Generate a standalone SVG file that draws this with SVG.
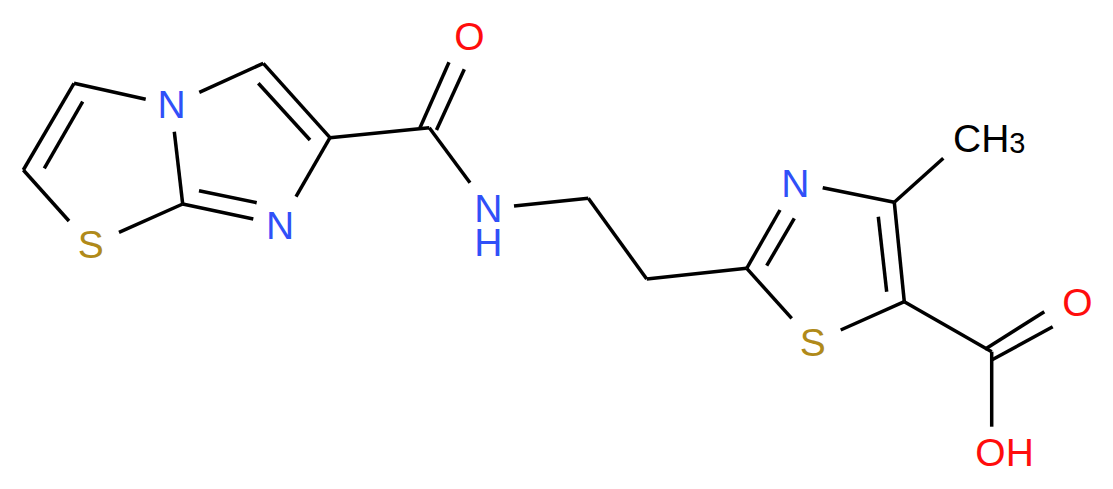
<svg xmlns="http://www.w3.org/2000/svg" width="1113" height="489" viewBox="0 0 1113 489">
<style>
.b{stroke:#000;stroke-width:3.5;fill:none;stroke-linecap:butt}
text{font-family:"Liberation Sans",Arial,sans-serif;font-size:39px}
.N{fill:#3050F8}.O{fill:#FF0D0D}.S{fill:#B08A1A}.C{fill:#000}
.m{text-anchor:middle}
</style>
<rect width="1113" height="489" fill="#fff"/>
<g id="bonds">
<line class="b" x1="74" y1="83.3" x2="145.7" y2="99.3"/>
<line class="b" x1="74" y1="83.3" x2="23.3" y2="170"/>
<line class="b" x1="82.7" y1="101.7" x2="44.3" y2="168.3"/>
<line class="b" x1="23.3" y1="170" x2="69" y2="221"/>
<line class="b" x1="119" y1="232.3" x2="182.7" y2="204"/>
<line class="b" x1="174.3" y1="131.7" x2="182.7" y2="204"/>
<line class="b" x1="182.7" y1="204" x2="253.3" y2="219"/>
<line class="b" x1="199" y1="190.7" x2="256.7" y2="202.7"/>
<line class="b" x1="296" y1="196.7" x2="330" y2="137.7"/>
<line class="b" x1="199.3" y1="92.3" x2="263.3" y2="63.3"/>
<line class="b" x1="263.3" y1="63.3" x2="330" y2="137.7"/>
<line class="b" x1="258.3" y1="83.3" x2="310" y2="140"/>
<line class="b" x1="330" y1="137.7" x2="429.3" y2="127.7"/>
<line class="b" x1="420" y1="127.7" x2="449" y2="62.3"/>
<line class="b" x1="436.5" y1="130" x2="464.3" y2="69.3"/>
<line class="b" x1="429.3" y1="127.7" x2="470" y2="182.7"/>
<line class="b" x1="514" y1="206" x2="588.3" y2="198.3"/>
<line class="b" x1="588.3" y1="198.3" x2="646.7" y2="279"/>
<line class="b" x1="646.7" y1="279" x2="746.7" y2="268.3"/>
<line class="b" x1="746.7" y1="268.3" x2="780" y2="210"/>
<line class="b" x1="766.7" y1="265.7" x2="794.3" y2="218.3"/>
<line class="b" x1="822.7" y1="187.7" x2="894.3" y2="202.3"/>
<line class="b" x1="894.3" y1="202.3" x2="904.3" y2="301.7"/>
<line class="b" x1="878.3" y1="216.7" x2="886.7" y2="291.7"/>
<line class="b" x1="904.3" y1="301.7" x2="840.7" y2="330"/>
<line class="b" x1="791.7" y1="318.3" x2="746.7" y2="268.3"/>
<line class="b" x1="894.3" y1="202.3" x2="943.3" y2="158.3"/>
<line class="b" x1="904.3" y1="301.7" x2="991.7" y2="351.7"/>
<line class="b" x1="985" y1="349.3" x2="1044.3" y2="311.7"/>
<line class="b" x1="991.7" y1="360" x2="1052.7" y2="326.7"/>
<line class="b" x1="991.7" y1="351.7" x2="991.7" y2="426.7"/>
</g>
<g id="n1"><text class="N m" x="171.7" y="118.3">N</text></g>
<g id="n2"><text class="N m" x="280" y="239">N</text></g>
<g id="s1"><text class="S m" x="90.8" y="257.5">S</text></g>
<g id="o1"><text class="O m" x="469.3" y="50">O</text></g>
<g id="nh"><text class="N m" x="488.3" y="222.3">N<tspan x="488.3" dy="33.7">H</tspan></text></g>
<g id="n3"><text class="N m" x="795.3" y="196.7">N</text></g>
<g id="s2"><text class="S m" x="812.8" y="356">S</text></g>
<g id="ch3"><text class="C" x="953" y="152">CH<tspan font-size="29" dy="1">3</tspan></text></g>
<g id="o2"><text class="O m" x="1077.5" y="316">O</text></g>
<g id="oh"><text class="O" x="975.3" y="466.3">OH</text></g>
</svg>
